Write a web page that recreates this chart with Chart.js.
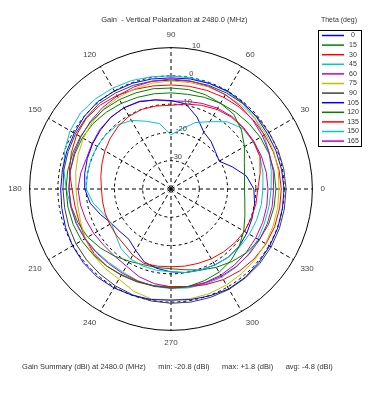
<!DOCTYPE html>
<html>
<head>
<meta charset="utf-8">
<script src="https://cdn.jsdelivr.net/npm/chart.js@4.4.1/dist/chart.umd.min.js"></script>
<style>
  html, body { margin: 0; padding: 0; background: #fff; }
</style>
</head>
<body>
<canvas id="gainChart" width="375" height="395"></canvas>
<script>
// polar angle of each sample (deg, counter-clockwise from the right)
const angles = [0, 10, 20, 30, 40, 50, 60, 70, 80, 90, 100, 110, 120, 130, 140, 150, 160, 170,
                180, 190, 200, 210, 220, 230, 240, 250, 260, 270, 280, 290, 300, 310, 320, 330, 340, 350];
const thetaLabels = ['0', '15', '30', '45', '60', '75', '90', '105', '120', '135', '150', '165'];
const lineColors = ['#0000ff', '#008000', '#ff0000', '#00c8c8', '#c000c0', '#c0c000', '#404040',
                    '#0000ff', '#008000', '#ff0000', '#00c8c8', '#c000c0'];
const ringValues = [-30, -20, -10, 0, 10];

// gain in dBi, one value per angle above
const gain0   = [0.0, -0.3, -0.5, -0.7, -0.5, -0.2, 0.0, -0.3, -0.5, -0.7, -0.5, -0.2, 0.0, 0.3, 0.0, -0.5, -0.8, -1.0,
                 -1.0, -0.8, -0.3, 0.2, 0.5, 0.6, 0.4, 0.0, -0.3, -0.7, -0.3, 0.2, 0.8, 0.8, 0.5, 0.3, 0.2, 0.0];
const gain15  = [-14.0, -13.6, -12.4, -10.0, -7.5, -5.5, -5.0, -4.5, -4.3, -4.3, -4.0, -3.8, -3.5, -3.2, -3.0, -3.0, -3.0, -2.9,
                 -2.9, -3.0, -3.2, -3.5, -4.0, -4.5, -5.0, -5.2, -5.2, -5.0, -5.0, -5.5, -6.0, -7.0, -8.5, -10.3, -12.2, -13.5];
const gain30  = [-9.3, -8.0, -6.5, -6.3, -6.5, -6.8, -7.5, -8.5, -9.5, -10.4, -10.2, -10.0, -10.3, -11.0, -12.0, -13.0, -14.0, -14.8,
                 -15.4, -15.4, -15.2, -15.0, -14.7, -14.3, -13.0, -12.0, -12.3, -12.5, -12.3, -12.0, -11.5, -11.0, -10.5, -10.0, -9.8, -9.5];
const gain45  = [-7.5, -7.0, -6.5, -6.5, -6.8, -9.0, -12.5, -15.0, -18.5, -20.8, -16.5, -14.5, -12.0, -10.5, -10.0, -9.8, -9.8, -10.0,
                 -10.0, -12.0, -14.5, -15.7, -14.5, -12.5, -11.4, -11.0, -10.8, -10.7, -10.0, -9.5, -9.0, -8.5, -8.2, -8.0, -7.8, -7.6];
const gain60  = [-3.7, -3.3, -3.0, -2.6, -2.2, -1.8, -1.5, -1.3, -1.2, -1.1, -1.3, -1.6, -2.0, -2.4, -2.8, -3.2, -3.5, -3.8,
                 -3.9, -4.0, -4.3, -4.8, -5.3, -5.6, -5.6, -5.4, -5.2, -5.0, -4.8, -4.6, -4.4, -4.2, -4.0, -3.9, -3.8, -3.7];
const gain75  = [-1.8, -1.5, -1.3, -1.2, -1.2, -1.3, -1.5, -1.6, -1.8, -1.8, -2.0, -2.3, -2.6, -3.0, -3.5, -4.2, -5.0, -5.8,
                 -6.4, -6.5, -6.0, -5.0, -4.0, -3.5, -3.2, -1.5, -0.5, -0.7, -0.6, -0.6, -0.8, -1.0, -1.2, -1.4, -1.6, -1.7];
const gain90  = [0.7, 0.5, 0.3, 0.0, -0.3, -0.5, -0.8, -1.0, -1.3, -1.5, -1.3, -1.0, -0.8, -0.5, -0.8, -1.0, -1.3, -1.5,
                 -1.8, -1.8, -1.5, -1.2, -1.0, -0.8, -0.5, -0.2, 0.2, 0.4, 0.6, 0.8, 1.0, 1.0, 1.0, 0.9, 0.8, 0.7];
const gain105 = [-10.7, -13.0, -17.0, -20.3, -19.5, -18.0, -16.8, -13.0, -9.5, -8.7, -8.0, -7.2, -6.8, -6.9, -7.5, -8.0, -8.5, -9.0,
                 -9.5, -11.0, -13.5, -15.7, -16.5, -16.8, -15.0, -12.5, -11.5, -10.7, -10.0, -9.5, -9.0, -8.5, -8.5, -9.0, -9.5, -10.0];
const gain120 = [-2.9, -3.0, -3.2, -3.5, -4.0, -4.5, -5.0, -5.5, -6.0, -6.0, -5.8, -5.5, -5.0, -4.5, -4.0, -3.8, -3.8, -3.8,
                 -3.9, -4.2, -5.0, -6.0, -7.5, -9.0, -10.5, -11.5, -11.8, -11.8, -11.0, -9.5, -8.0, -6.5, -5.0, -4.0, -3.3, -3.0];
const gain135 = [-1.0, -1.2, -1.5, -1.8, -2.0, -2.3, -2.6, -2.9, -3.1, -3.2, -3.0, -2.5, -1.8, -1.2, -1.0, -1.5, -2.5, -3.5,
                 -5.0, -5.5, -5.5, -5.0, -4.5, -4.5, -4.8, -5.0, -5.2, -5.5, -5.0, -4.0, -3.0, -2.2, -1.6, -1.2, -1.0, -1.0];
const gain150 = [-4.6, -4.0, -3.0, -2.0, -1.2, -0.6, -0.3, -0.2, -0.1, 0.0, 0.3, 0.8, 1.2, 1.6, 1.8, 1.2, 0.0, -1.5,
                 -3.0, -4.0, -4.5, -5.0, -5.5, -6.0, -6.0, -5.5, -5.0, -4.8, -4.5, -4.2, -4.0, -4.0, -4.2, -4.5, -4.8, -4.8];
const gain165 = [-5.7, -5.8, -6.0, -6.2, -6.4, -6.5, -7.0, -7.8, -8.5, -8.9, -8.0, -7.0, -6.8, -6.9, -7.2, -7.8, -8.2, -7.6,
                 -7.1, -7.5, -8.0, -8.5, -9.0, -9.0, -8.5, -7.0, -6.0, -5.4, -5.0, -4.8, -4.8, -5.0, -5.2, -5.4, -5.5, -5.6];

const gainSeries = [gain0, gain15, gain30, gain45, gain60, gain75, gain90, gain105, gain120, gain135, gain150, gain165];

// radar walks clockwise, the polar plot counter-clockwise: read the angles backwards
const order = angles.map((a, i) => (angles.length - i) % angles.length);

const fontFamily = '"Liberation Sans", Arial, sans-serif';

// ring values written just right of the 90 deg spoke
const ringLabels = {
  id: 'ringLabels',
  afterDatasetsDraw(chart) {
    const s = chart.scales.r;
    const c = chart.ctx;
    const a = 80 * Math.PI / 180;
    c.save();
    c.font = '7.5px ' + fontFamily;
    c.fillStyle = '#444';
    c.textAlign = 'center';
    c.textBaseline = 'middle';
    ringValues.forEach(v => {
      const d = s.getDistanceFromCenterForValue(v) + 4;
      c.fillText(String(v), s.xCenter + d * Math.cos(a), s.yCenter - d * Math.sin(a));
    });
    c.restore();
  }
};

// boxed legend at the top right
const thetaLegend = {
  id: 'thetaLegend',
  afterDraw(chart) {
    const c = chart.ctx;
    c.save();
    c.font = '7px ' + fontFamily;
    c.fillStyle = '#333';
    c.textAlign = 'center';
    c.textBaseline = 'middle';
    c.fillText('Theta (deg)', 339, 20);
    c.strokeStyle = '#000';
    c.lineWidth = 1;
    c.strokeRect(318.5, 30.5, 43, 116);
    chart.data.datasets.forEach((ds, k) => {
      const y = 35.5 + k * 9.6;
      c.strokeStyle = ds.borderColor;
      c.lineWidth = 1.5;
      c.beginPath();
      c.moveTo(322, y);
      c.lineTo(344, y);
      c.stroke();
      c.fillText(ds.label, 353, y);
    });
    c.restore();
  }
};

const ctx = document.getElementById('gainChart').getContext('2d');
new Chart(ctx, {
  type: 'radar',
  data: {
    labels: order.map(i => angles[i]),
    datasets: gainSeries.map((vals, k) => ({
      label: thetaLabels[k],
      data: order.map(i => vals[i]),
      borderColor: lineColors[k],
      backgroundColor: 'transparent',
      borderWidth: 1,
      pointRadius: 0,
      pointHoverRadius: 0,
      fill: false,
      tension: 0
    }))
  },
  options: {
    responsive: false,
    animation: false,
    layout: { padding: { right: 41 } },
    plugins: {
      legend: { display: false },
      tooltip: { enabled: false },
      title: {
        display: true,
        text: '       Gain  - Vertical Polarization at 2480.0 (MHz)',
        color: '#333',
        font: { family: fontFamily, size: 7.5, weight: 'normal' },
        padding: { top: 15, bottom: 7 }
      },
      subtitle: {
        display: true,
        position: 'bottom',
        text: '          Gain Summary (dBi) at 2480.0 (MHz)      min: -20.8 (dBi)      max: +1.8 (dBi)      avg: -4.8 (dBi)',
        color: '#333',
        font: { family: fontFamily, size: 7.5, weight: 'normal' },
        padding: { top: 13, bottom: 24 }
      }
    },
    scales: {
      r: {
        min: -40,
        max: 10,
        startAngle: 90,
        ticks: { display: false, stepSize: 10 },
        grid: { color: '#000', lineWidth: 1, circular: true },
        border: { dash: c => (c.tick && c.tick.value === 10) ? [] : [3, 3] },
        angleLines: {
          color: '#000',
          lineWidth: c => angles[order[c.index]] % 30 === 0 ? 1 : 0,
          borderDash: [4, 3]
        },
        pointLabels: {
          padding: 8,
          color: '#444',
          font: { family: fontFamily, size: 8 },
          callback: v => v % 30 === 0 ? String(v) : ''
        }
      }
    }
  },
  plugins: [ringLabels, thetaLegend]
});
</script>
</body>
</html>
